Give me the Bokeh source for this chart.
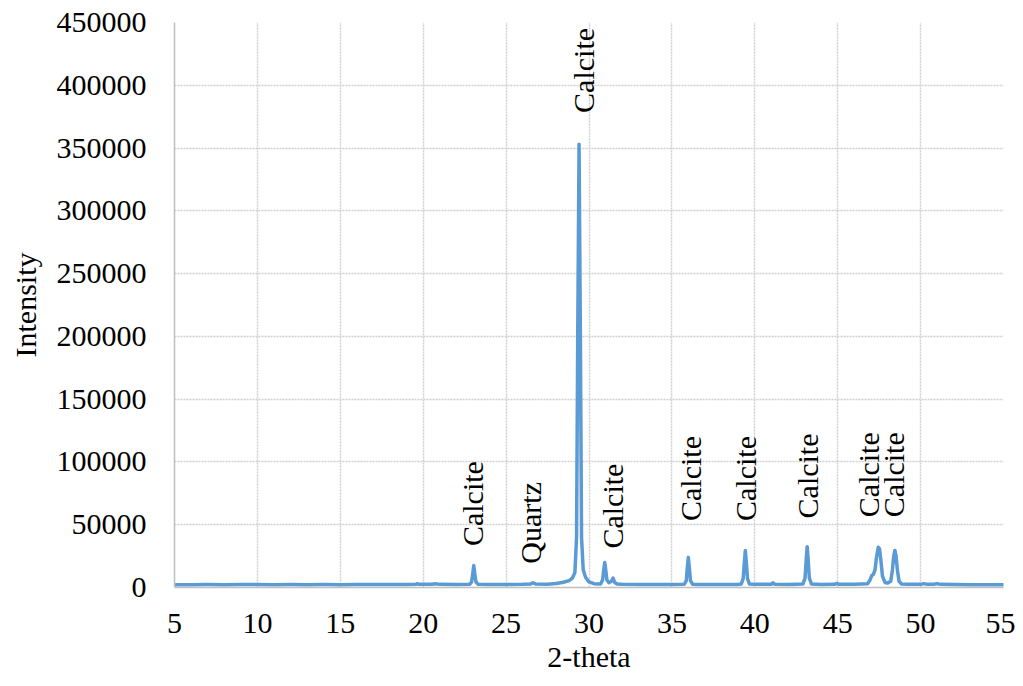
import numpy as np
from bokeh.plotting import figure
from bokeh.models import ColumnDataSource, FixedTicker, NumeralTickFormatter
from bokeh.core.properties import value
from bokeh.embed import file_html
from bokeh.resources import INLINE

# XRD pattern
two_theta = [5.0, 6.0, 7.0, 8.0, 9.0, 10.0, 11.0, 12.0, 13.0, 14.0, 15.0, 16.0, 17.0,
             18.0, 19.0, 19.55, 19.65, 19.75, 20.5, 20.8, 21.0, 22.0,
             22.8, 22.92, 22.99, 23.05, 23.11, 23.18, 23.3,
             24.0, 25.0, 26.0, 26.45, 26.62, 26.8, 27.5, 28.0,
             28.4, 28.8, 29.0, 29.15, 29.25, 29.32, 29.4, 29.48, 29.55, 29.65, 29.8, 30.0, 30.3,
             30.7, 30.82, 30.89, 30.95, 31.01, 31.08, 31.2, 31.35, 31.45, 31.55, 31.7,
             32.0, 33.0, 34.0, 35.0,
             35.75, 35.87, 35.93, 35.99, 36.05, 36.12, 36.25,
             36.5, 37.0, 38.0, 39.0,
             39.18, 39.3, 39.37, 39.43, 39.49, 39.56, 39.68,
             40.0, 41.0, 41.1, 41.2, 42.0,
             42.9, 43.03, 43.1, 43.16, 43.22, 43.29, 43.42,
             44.0, 44.8, 44.95, 45.1, 46.0,
             46.8, 46.95, 47.05, 47.15, 47.25, 47.35, 47.45, 47.52, 47.6, 47.7, 47.85,
             48.0, 48.2, 48.3, 48.38, 48.45, 48.52, 48.6, 48.7, 48.85,
             49.2, 50.0, 50.2, 50.4, 50.8, 51.0, 51.2, 52.0, 53.0, 54.0, 55.0]
intensity = [2100, 2200, 2300, 2200, 2300, 2300, 2200, 2300, 2200, 2300, 2200, 2300, 2300,
             2300, 2400, 2500, 3000, 2500, 2500, 2900, 2500, 2400,
             2500, 4500, 11000, 17500, 11000, 4500, 2600,
             2400, 2400, 2500, 2700, 3800, 2700, 2600, 3200,
             4000, 5500, 7500, 12000, 40000, 200000, 353000, 200000, 40000, 14000, 8000, 4500, 3000,
             2800, 6000, 14000, 20000, 14000, 6000, 3800, 5000, 7500, 4000, 2800,
             2500, 2400, 2400, 2400,
             2600, 5500, 16000, 24000, 16000, 5500, 2600,
             2400, 2400, 2300, 2400,
             2700, 7000, 20000, 29500, 20000, 7000, 2700,
             2500, 2500, 3800, 2500, 2400,
             2700, 7500, 22000, 32500, 22000, 7500, 2700,
             2400, 2500, 3200, 2500, 2500,
             3000, 6000, 9500, 10500, 14000, 25000, 32000, 31000, 22000, 9000, 4000,
             3500, 5000, 14000, 25000, 29500, 25000, 14000, 5000, 2800,
             2600, 2500, 3100, 2500, 2600, 3100, 2500, 2300, 2200, 2200, 2200]

# Peak annotations
label_x = [23.0, 26.5, 29.65, 31.4, 36.1, 39.45, 43.2, 46.85, 48.35]
label_y = [33000, 19000, 378000, 31000, 53000, 53000, 55000, 56000, 56000]
label_text = ["Calcite", "Quartz", "Calcite", "Calcite", "Calcite", "Calcite",
              "Calcite", "Calcite", "Calcite"]

FONT = "Liberation Serif"

p = figure(width=1015, height=678, x_range=(5, 55), y_range=(0, 450000),
           output_backend="svg", toolbar_location=None,
           min_border_left=174, min_border_right=12, min_border_top=22,
           min_border_bottom=91)
p.outline_line_color = None
p.background_fill_color = "white"
p.border_fill_color = "white"

src = ColumnDataSource(dict(x=two_theta, y=intensity))
p.line("x", "y", source=src, line_color="#5B9BD5", line_width=3.5,
       line_join="round", line_cap="round")

lab = ColumnDataSource(dict(x=label_x, y=label_y, t=label_text))
p.text("x", "y", text="t", source=lab, angle=np.pi / 2,
       text_align="left", text_baseline="middle",
       text_font=value(FONT), text_font_size="30px", text_color="black")

p.xaxis.ticker = FixedTicker(ticks=list(range(5, 56, 5)))
p.yaxis.ticker = FixedTicker(ticks=list(range(0, 450001, 50000)))
p.yaxis.formatter = NumeralTickFormatter(format="0")

for ax in (p.xaxis, p.yaxis):
    ax.major_tick_line_color = None
    ax.minor_tick_line_color = None
    ax.axis_line_color = "#bfbfbf"
    ax.axis_line_width = 1.5
    ax.major_label_text_font = FONT
    ax.major_label_text_font_size = "30px"
    ax.major_label_text_color = "black"
    ax.axis_label_text_font = FONT
    ax.axis_label_text_font_size = "30px"
    ax.axis_label_text_font_style = "normal"
    ax.axis_label_text_color = "black"

p.xaxis.axis_label = "2-theta"
p.yaxis.axis_label = "Intensity"
p.xaxis.major_label_standoff = 20
p.yaxis.major_label_standoff = 22
p.xaxis.axis_label_standoff = 4
p.yaxis.axis_label_standoff = 12

for g in (p.xgrid, p.ygrid):
    g.grid_line_color = "#d0d0d0"
    g.grid_line_width = 1.5
    g.grid_line_dash = "2 1"

open("out.html", "w").write(file_html(p, INLINE))
